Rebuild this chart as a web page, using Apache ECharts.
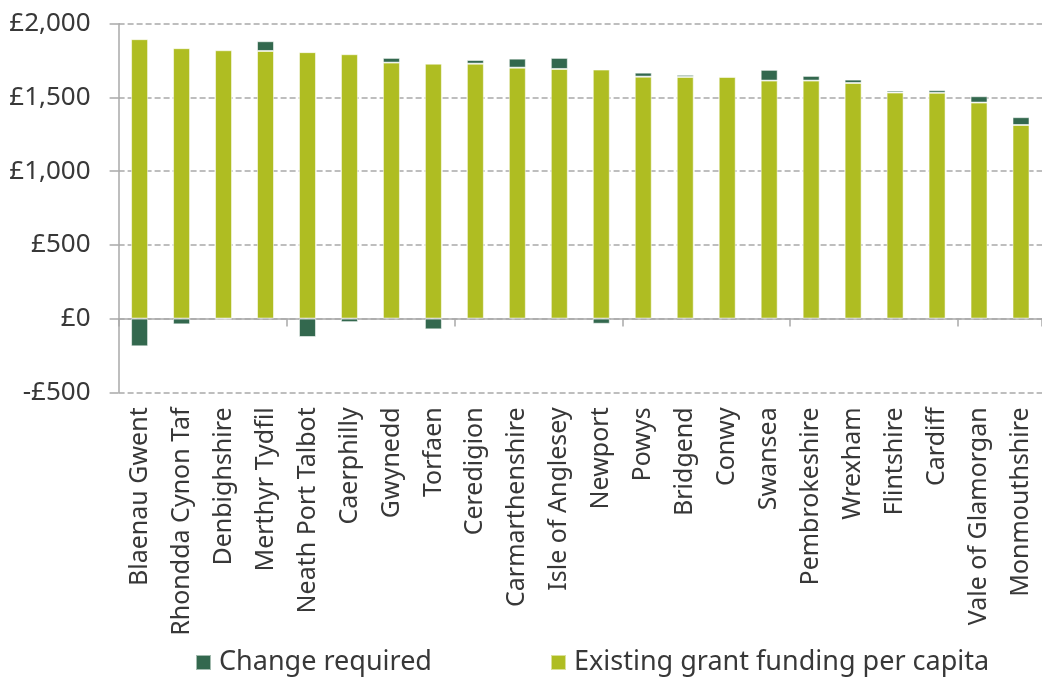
<!DOCTYPE html>
<html>
<head>
<meta charset="utf-8">
<script src="https://cdn.jsdelivr.net/npm/echarts@6/dist/echarts.min.js"></script>
<style>
html,body{margin:0;padding:0;background:#fff;}
#chart{width:1042px;height:677px;}
</style>
</head>
<body>
<div id="chart"></div>
<script>
const categories = ["Blaenau Gwent","Rhondda Cynon Taf","Denbighshire","Merthyr Tydfil","Neath Port Talbot","Caerphilly","Gwynedd","Torfaen","Ceredigion","Carmarthenshire","Isle of Anglesey","Newport","Powys","Bridgend","Conwy","Swansea","Pembrokeshire","Wrexham","Flintshire","Cardiff","Vale of Glamorgan","Monmouthshire"];
const existingFunding = [1895,1834,1820,1815,1807,1793,1736,1729,1729,1702,1693,1689,1641,1639,1639,1614,1614,1598,1533,1531,1465,1313];
const changeRequired = [-188,-39,-5,66,-125,-24,32,-73,25,61,75,-35,27,14,7,73,32,23,13,18,43,53];
const yTicks = [-500,0,500,1000,1500,2000];

const FONT = "'Noto Sans', 'Open Sans', sans-serif";
const TEXT = '#383838';
const GRID = '#a9a9a9';

function fmt(v){
  const s = Math.abs(v).toLocaleString('en-GB');
  return (v < 0 ? '-£' : '£') + s;
}

const chart = echarts.init(document.getElementById('chart'), null, {renderer:'canvas'});
chart.setOption({
  animation:false,
  backgroundColor:'#fff',
  textStyle:{fontFamily:FONT},
  grid:{left:118.6, right:-9.7, top:23.7, bottom:284.7, containLabel:false},
  legend:{
    left:195, top:649, itemWidth:15, itemHeight:15, itemGap:118,
    icon:'rect', padding:0,
    textStyle:{fontFamily:FONT, fontSize:27, color:TEXT, padding:[0,0,0,3]},
    data:['Change required','Existing grant funding per capita']
  },
  xAxis:[
    {type:'category', data:categories, position:'bottom',
     axisLine:{onZero:true, lineStyle:{color:GRID, width:1.5}},
     axisTick:{show:true, length:8, lineStyle:{color:GRID, width:1.5}},
     axisLabel:{show:false}, splitLine:{show:false}},
    {type:'category', data:categories, position:'bottom',
     axisLine:{show:false, onZero:false}, axisTick:{show:false},
     axisLabel:{show:true, rotate:90, margin:15, fontFamily:FONT, fontSize:25, color:TEXT, interval:0}}
  ],
  yAxis:{type:'value', min:yTicks[0], max:yTicks[yTicks.length-1], interval:500,
    axisLine:{show:true, lineStyle:{color:GRID, width:1.5}},
    axisTick:{show:true, length:9, lineStyle:{color:GRID, width:1.5}},
    axisLabel:{formatter:fmt, fontFamily:FONT, fontSize:26, color:TEXT, margin:28},
    splitLine:{show:true, lineStyle:{color:GRID, width:1.5, type:[6,3]}}
  },
  series:[
    {name:'Existing grant funding per capita', type:'bar', stack:'t', data:existingFunding,
     barWidth:17, itemStyle:{color:'#afbd22', borderColor:'rgba(255,255,255,0.55)', borderWidth:1}, z:2},
    {name:'Change required', type:'bar', stack:'t', data:changeRequired,
     barWidth:17, itemStyle:{color:'#33684e', borderColor:'rgba(255,255,255,0.55)', borderWidth:1}, z:2}
  ]
});
</script>
</body>
</html>
